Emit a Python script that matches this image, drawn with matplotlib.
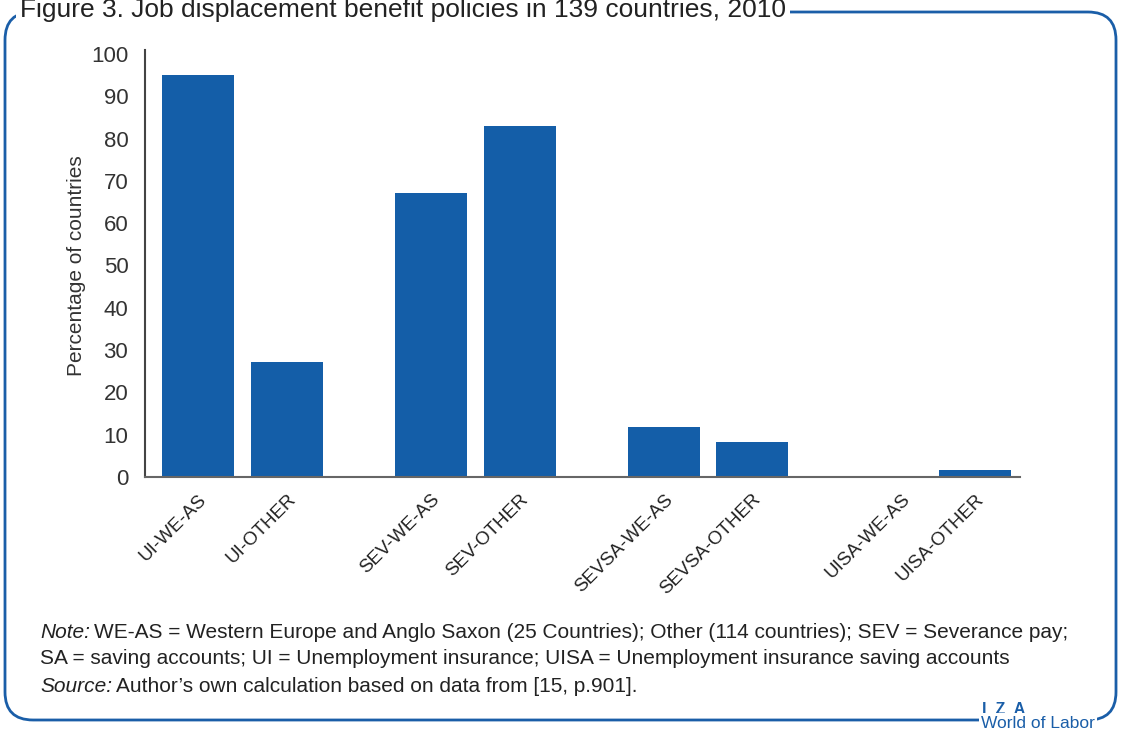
import matplotlib
matplotlib.use("Agg")
import matplotlib.pyplot as plt
from matplotlib.patches import FancyBboxPatch
from matplotlib import font_manager

names = {f.name for f in font_manager.fontManager.ttflist}
FONT = "Liberation Sans Narrow" if "Liberation Sans Narrow" in names else "Liberation Sans"
plt.rcParams['font.family'] = [FONT, 'DejaVu Sans']

categories = ["UI-WE-AS", "UI-OTHER", "SEV-WE-AS", "SEV-OTHER",
              "SEVSA-WE-AS", "SEVSA-OTHER", "UISA-WE-AS", "UISA-OTHER"]
values = [95, 27.2, 67.1, 83, 11.8, 8.3, 0, 1.6]
yticks = [0, 10, 20, 30, 40, 50, 60, 70, 80, 90, 100]

W, H = 1121, 731
fig = plt.figure(figsize=(W/100, H/100), dpi=100)

ax_l, ax_r, ax_t, ax_b = 145, 1020, 54, 477
ax = fig.add_axes([ax_l/W, 1-ax_b/H, (ax_r-ax_l)/W, (ax_b-ax_t)/H])

# layout: bar centres in pixel units (slot spacing of the original chart)
centres_px = [198, 287, 431, 520, 664, 752, 902, 975]
pos = [(c - 198) / 89 for c in centres_px]
ax.bar(pos, values, width=0.81, color="#145ea8")
ax.set_xlim((ax_l - 198) / 89, (ax_r - 198) / 89)
ax.set_ylim(0, 100)
ax.set_yticks(yticks)
ax.set_yticklabels([str(t) for t in yticks], fontsize=16, color="#333333")
ax.set_xticks(pos)
ax.set_xticklabels(categories, rotation=45, ha="right", rotation_mode="anchor",
                   fontsize=13.5, color="#222222")
ax.tick_params(axis="y", length=0, pad=12)
ax.tick_params(axis="x", length=0, pad=10)
for s in ["top", "right"]:
    ax.spines[s].set_visible(False)
ax.spines["left"].set_color("#444444")
ax.spines["left"].set_linewidth(1.5)
ax.spines["left"].set_bounds(0, 101)
ax.spines["bottom"].set_color("#666666")
ax.spines["bottom"].set_linewidth(1.5)
ax.set_ylabel("Percentage of countries", fontsize=15, color="#333333", labelpad=4)

# frame
frame = FancyBboxPatch((5/W, 1-720/H), 1111/W, 708/H,
                       boxstyle="round,pad=0,rounding_size=0.025",
                       transform=fig.transFigure, fill=False,
                       edgecolor="#1a5ea8", linewidth=2, mutation_aspect=W/H)
fig.patches.append(frame)

fig.text(20/W, 1-10/H, "Figure 3. Job displacement benefit policies in 139 countries, 2010",
         fontsize=19, color="#222222", ha="left", va="center",
         bbox=dict(facecolor="white", edgecolor="none", pad=3))

NOTE_FS = 15
fig.canvas.draw()
renderer = fig.canvas.get_renderer()


def line_with_lead(y_px, lead, rest):
    x = 40 / W
    if lead:
        t = fig.text(x, 1 - y_px / H, lead, fontsize=NOTE_FS, color="#222222",
                     ha="left", va="center", style="italic")
        bb = t.get_window_extent(renderer=renderer)
        x = (bb.x1 + 4) / W
    fig.text(x, 1 - y_px / H, rest, fontsize=NOTE_FS, color="#222222",
             ha="left", va="center")


line_with_lead(633, "Note:", "WE-AS = Western Europe and Anglo Saxon (25 Countries); Other (114 countries); SEV = Severance pay;")
line_with_lead(659, "", "SA = saving accounts; UI = Unemployment insurance; UISA = Unemployment insurance saving accounts")
line_with_lead(686, "Source:", "Author\u2019s own calculation based on data from [15, p.901].")

fig.text(1004/W, 1-709/H, "I  Z  A", fontsize=11.5, color="#1a5ea8", ha="center", va="center",
         fontweight="bold")
fig.text(1038/W, 1-723/H, "World of Labor", fontsize=12.5, color="#1a5ea8", ha="center",
         va="center", bbox=dict(facecolor="white", edgecolor="none", pad=1.5))

fig.savefig("out.png", dpi=100)
